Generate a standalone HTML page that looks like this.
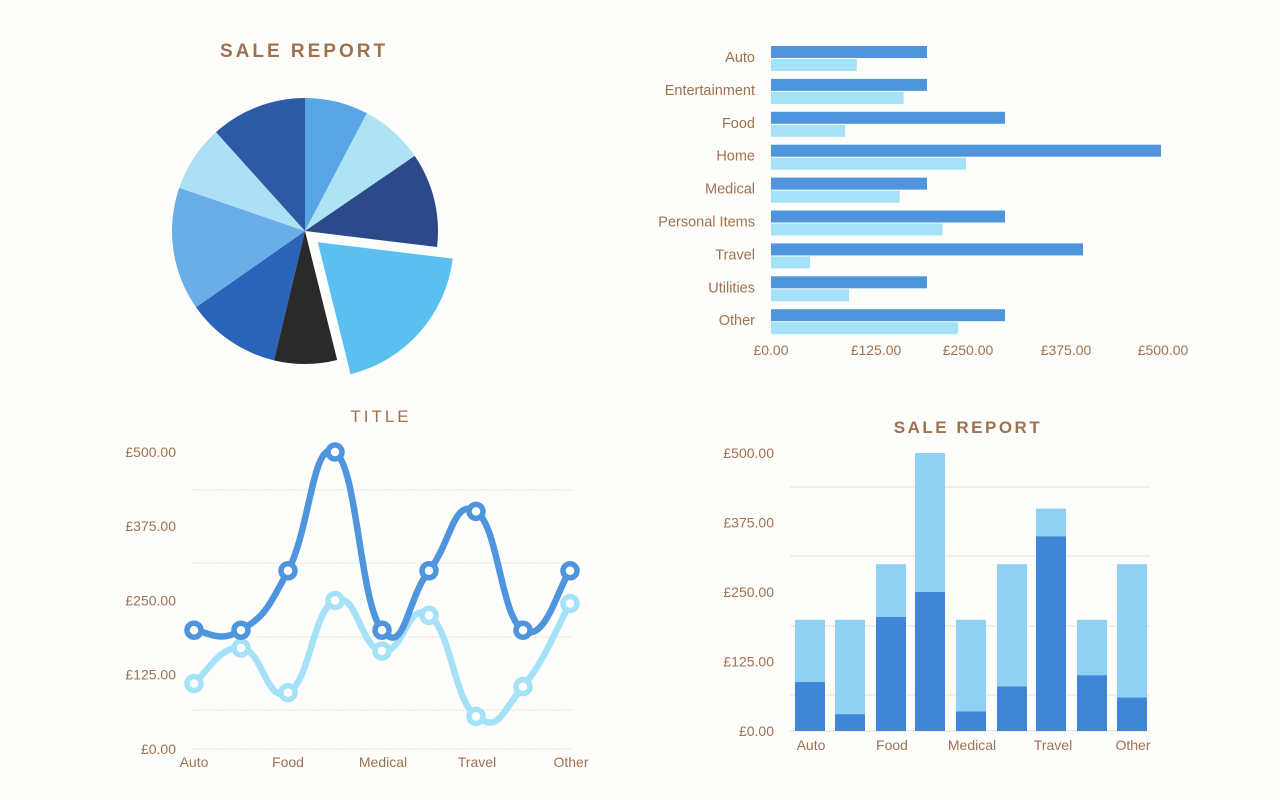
<!DOCTYPE html>
<html><head><meta charset="utf-8"><style>
html,body{margin:0;padding:0;background:#fdfdfb;}
svg{display:block;font-family:"Liberation Sans",sans-serif;}
</style></head><body>
<svg id="s" width="1280" height="800" viewBox="0 0 1280 800" xmlns="http://www.w3.org/2000/svg">
<rect width="1280" height="800" fill="#fdfdfb"/>
<g fill="#a0714f" font-size="14">
<text x="304" y="57" text-anchor="middle" font-size="19" font-weight="bold" letter-spacing="3">SALE REPORT</text>
<text x="381" y="422" text-anchor="middle" font-size="17" letter-spacing="3">TITLE</text>
<text x="968" y="433" text-anchor="middle" font-size="17" font-weight="bold" letter-spacing="2.5">SALE REPORT</text>
</g>
<g id="pie"></g>
<g id="hbar"></g>
<g id="line"></g>
<g id="vbar"></g>
</svg>
<script>
var NS="http://www.w3.org/2000/svg";
function el(p,t,a,txt){var e=document.createElementNS(NS,t);for(var k in a)e.setAttribute(k,a[k]);if(txt!=null)e.textContent=txt;document.getElementById(p).appendChild(e);return e;}
var cx=305,cy=231,r=133;
var sl=[[0,27.7,"#5aa5e6"],[27.7,55.6,"#aee3f5"],[55.6,96.9,"#2c4a8a"],[96.9,166,"#5bc0f0",1],[166,193.5,"#2a2a2a"],[193.5,235,"#2a64b8"],[235,289,"#6aaee8"],[289,318,"#aee0f5"],[318,360,"#2d5aa5"]];
sl.forEach(function(s){var ox=0,oy=0;if(s[3]){var m=(s[0]+s[1])/2*Math.PI/180;ox=17*Math.sin(m);oy=-17*Math.cos(m);}
var a0=s[0]*Math.PI/180,a1=s[1]*Math.PI/180,x=cx+ox,y=cy+oy,rr=s[3]?136:r;
var d="M"+x+","+y+"L"+(x+rr*Math.sin(a0))+","+(y-rr*Math.cos(a0))+"A"+rr+","+rr+" 0 "+((s[1]-s[0])>180?1:0)+" 1 "+(x+rr*Math.sin(a1))+","+(y-rr*Math.cos(a1))+"Z";
el("pie","path",{d:d,fill:s[2]});});
var cats=["Auto","Entertainment","Food","Home","Medical","Personal Items","Travel","Utilities","Other"];
var dk=[200,200,300,500,200,300,400,200,300],lt=[110,170,95,250,165,220,50,100,240];
cats.forEach(function(c,i){var y=57+i*32.9;
el("hbar","rect",{x:771,y:y-11,width:dk[i]*0.78,height:12,fill:"#4f95de"});
el("hbar","rect",{x:771,y:y+2,width:lt[i]*0.78,height:12,fill:"#a6e2f7"});
el("hbar","text",{x:755,y:y+5,"text-anchor":"end",fill:"#a0714f","font-size":14.5},c);});
["£0.00","£125.00","£250.00","£375.00","£500.00"].forEach(function(t,i){el("hbar","text",{x:[771,876,968,1066,1163][i],y:355,"text-anchor":"middle",fill:"#a0714f","font-size":14},t);});
function Y(v){return 749-v*0.594;}
var xs=[194,241,288,335,382,429,476,523,570];
[490,563,637,710,749].forEach(function(y){el("line","line",{x1:192,x2:572,y1:y,y2:y,stroke:"#e8e2d0","stroke-width":1,"stroke-dasharray":"2,1"});});
["£0.00","£125.00","£250.00","£375.00","£500.00"].forEach(function(t,i){el("line","text",{x:176,y:754-i*74.3,"text-anchor":"end",fill:"#a0714f","font-size":14},t);});
[["Auto",194],["Food",288],["Medical",383],["Travel",477],["Other",571]].forEach(function(a){el("line","text",{x:a[1],y:767,"text-anchor":"middle",fill:"#a0714f","font-size":14},a[0]);});
function spline(vals,col){var p=vals.map(function(v,i){return[xs[i],Y(v)];});var d="M"+p[0];var k=4.2;
for(var i=0;i<p.length-1;i++){var p0=p[i-1]||p[i],p1=p[i],p2=p[i+1],p3=p[i+2]||p2;
d+="C"+(p1[0]+(p2[0]-p0[0])/k)+","+(p1[1]+(p2[1]-p0[1])/k)+" "+(p2[0]-(p3[0]-p1[0])/k)+","+(p2[1]-(p3[1]-p1[1])/k)+" "+p2[0]+","+p2[1];}
el("line","path",{d:d,fill:"none",stroke:col,"stroke-width":6.5});
p.forEach(function(q){el("line","circle",{cx:q[0],cy:q[1],r:7,fill:"#fff",stroke:col,"stroke-width":5.5});});}
spline([110,170,95,250,165,225,55,105,245],"#a6e2f7");
spline([200,200,300,500,200,300,400,200,300],"#4f95de");
function V(v){return 731-v*0.556;}
[487,556,626,695,731].forEach(function(y){el("vbar","line",{x1:790,x2:1150,y1:y,y2:y,stroke:"#e8e2d0","stroke-width":1});});
["£0.00","£125.00","£250.00","£375.00","£500.00"].forEach(function(t,i){el("vbar","text",{x:774,y:736-i*69.5,"text-anchor":"end",fill:"#a0714f","font-size":14},t);});
var bx=[810,850,891,930,971,1012,1051,1092,1132],bd=[88,30,205,250,35,80,350,100,60],bt=[200,200,300,500,200,300,400,200,300];
bx.forEach(function(x,i){el("vbar","rect",{x:x-15,y:V(bt[i]),width:30,height:bt[i]*0.556,fill:"#8fd0f3"});
el("vbar","rect",{x:x-15,y:V(bd[i]),width:30,height:bd[i]*0.556,fill:"#3f86d6"});});
[["Auto",811],["Food",892],["Medical",972],["Travel",1053],["Other",1133]].forEach(function(a){el("vbar","text",{x:a[1],y:750,"text-anchor":"middle",fill:"#a0714f","font-size":14},a[0]);});
</script>
</body></html>
